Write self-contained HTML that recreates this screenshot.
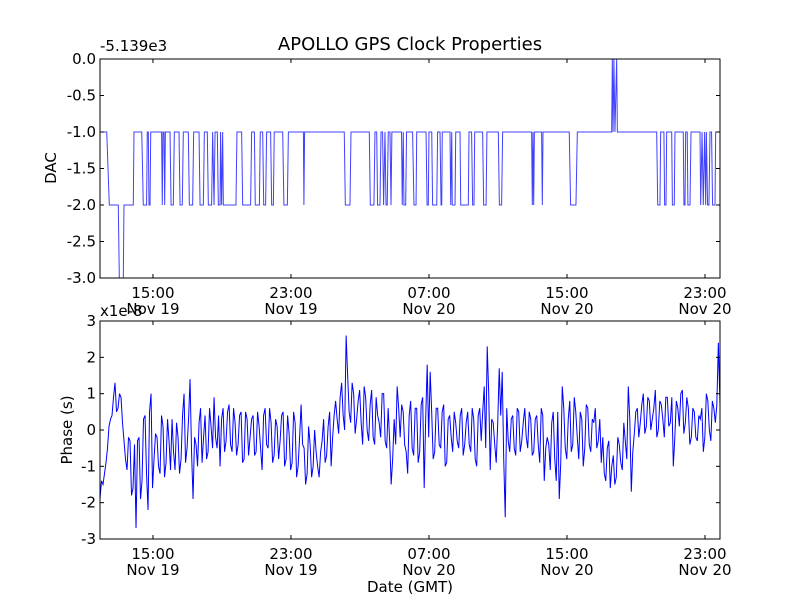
<!DOCTYPE html>
<html><head><meta charset="utf-8">
<style>
html,body{margin:0;padding:0;background:#fff;}
svg text{font-family:"DejaVu Sans","Liberation Sans",sans-serif;fill:#000;}
</style></head>
<body>
<svg id="chart" width="800" height="600" viewBox="0 0 800 600" xmlns="http://www.w3.org/2000/svg">
<rect width="800" height="600" fill="#fff"/>
<text x="410" y="50" font-size="18" text-anchor="middle">APOLLO GPS Clock Properties</text>
<text x="100" y="51" font-size="15">-5.139e3</text>
<text x="100" y="316" font-size="15">x1e-8</text>
<text x="0" y="0" font-size="15" text-anchor="middle" transform="translate(56,168) rotate(-90)">DAC</text>
<text x="0" y="0" font-size="15" text-anchor="middle" transform="translate(72,430) rotate(-90)">Phase (s)</text>
<text x="410" y="592" font-size="15" text-anchor="middle">Date (GMT)</text>
<g id="top"></g>
<g id="bottom"></g>
</svg>
<script>
// ---- data ----
const xTickHours = [15, 23, 31, 39, 47];
const xTickTimes = ["15:00", "23:00", "07:00", "15:00", "23:00"];
const xTickDates = ["Nov 19", "Nov 19", "Nov 20", "Nov 20", "Nov 20"];
const topTicks = [0.0, -0.5, -1.0, -1.5, -2.0, -2.5, -3.0];
const bottomTicks = [3, 2, 1, 0, -1, -2, -3];
// DAC (offset from -5.139e3): [hours since Nov 19 00:00, value]
const dacTimes = [11.93,12.32,12.47,12.99,13.05,13.28,13.32,13.86,13.90,14.35,14.44,14.63,14.67,14.73,14.77,14.83,14.87,15.50,15.54,15.58,15.64,15.68,15.72,15.99,16.05,16.18,16.24,16.51,16.57,16.70,16.76,17.05,17.11,17.30,17.36,17.67,17.73,17.92,17.98,18.15,18.21,18.40,18.46,18.54,18.60,18.73,18.79,18.89,18.92,18.98,19.04,19.08,19.81,19.87,20.14,20.20,20.66,20.72,20.88,20.93,21.17,21.22,21.36,21.42,21.53,21.59,21.82,21.88,21.98,22.03,22.52,22.59,22.79,22.85,23.72,23.75,23.79,26.09,26.15,26.42,26.48,27.54,27.60,27.81,27.87,27.97,28.02,28.16,28.22,28.31,28.37,28.45,28.51,28.58,28.64,28.74,28.80,28.85,29.41,29.45,29.51,29.55,29.65,29.70,
30.05,30.13,30.25,30.29,30.83,30.89,30.96,31.00,31.16,31.21,31.45,31.50,31.64,31.70,31.74,31.77,32.22,32.26,32.32,32.35,32.51,32.55,32.80,32.84,33.28,33.32,33.47,33.53,33.61,33.65,34.11,34.17,34.31,34.36,35.02,35.08,35.21,35.27,36.95,36.99,37.03,37.07,37.11,37.53,37.57,37.61,39.13,39.21,39.52,39.60,41.59,41.63,41.67,41.72,41.78,41.88,41.92,44.20,44.26,44.39,44.43,44.62,44.66,44.74,44.78,45.07,45.11,45.22,45.26,45.74,45.78,45.84,45.88,45.97,46.01,46.13,46.19,46.71,46.75,46.83,46.90,46.98,47.04,47.08,47.15,47.23,47.29,47.38,47.44,47.58,47.62,47.87];
const dacValues = [-1,-1,-2,-2,-3,-3,-2,-2,-1,-1,-2,-2,-1,-1,-2,-2,-1,-1,-2,-1,-1,-2,-1,-1,-2,-2,-1,-1,-2,-2,-1,-1,-2,-2,-1,-1,-2,-2,-1,-1,-2,-2,-1,-2,-1,-1,-2,-2,-1,-2,-1,-2,-2,-1,-1,-2,-2,-1,-1,-2,-2,-1,-1,-2,-2,-1,-1,-2,-2,-1,-1,-2,-2,-1,-1,-2,-1,-1,-2,-2,-1,-1,-2,-2,-1,-1,-2,-2,-1,-1,-2,-1,-2,-2,-1,-1,-2,-1,-1,-2,-1,-2,-2,-1,
-1,-2,-2,-1,-1,-2,-2,-1,-1,-2,-2,-1,-1,-2,-2,-1,-1,-2,-1,-2,-2,-1,-1,-2,-2,-1,-1,-2,-2,-1,-1,-2,-2,-1,-1,-2,-2,-1,-1,-2,-1,-2,-1,-1,-2,-1,-1,-2,-2,-1,-1,0,-1,0,-1,0,-1,-1,-2,-2,-1,-1,-2,-2,-1,-1,-2,-2,-1,-1,-2,-2,-1,-1,-2,-2,-1,-1,-2,-1,-2,-1,-2,-1,-2,-2,-1,-1,-2,-2,-1,-1];
// Phase (x1e-8 s), regularly sampled; phaseMidValues are samples between consecutive phaseValues
const phaseStart = 11.93;
const phaseStep = 0.174;
const phaseValues = [-1.9,-1.5,-0.9,0.1,0.4,1.3,0.6,0.9,-0.3,-1.1,-0.3,-1.6,-2.7,-0.2,-1.4,0.4,-2.2,1.0,-0.8,-0.2,-1.2,0.1,-0.9,-0.3,0.3,-1.1,-0.2,-0.8,1.0,-0.5,1.4,-1.9,-0.4,0.2,-0.9,0.4,-0.6,0.1,0.9,-0.5,-1.0,0.6,-0.3,0.7,-0.6,0.2,-0.4,0.5,-0.8,0.3,-0.2,0.4,-0.6,0.1,-1.1,0.6,-0.5,0.2,-0.7,0.1,-0.3,0.5,-0.8,-0.1,-0.9,0.2,-1.0,0.7,-0.5,-1.2,-0.4,-1.0,-0.6,-1.3,-0.3,-0.9,0.1,-1.0,0.4,0.3,0.9,0.4,2.6,0.5,1.3,-0.1,0.8,0.2,1.2,0.0,0.7,-0.2,0.9,0.2,1.0,-0.3,0.6,-1.5,0.3,1.2,-0.2,0.5,-0.6,0.4,-0.5,0.6,-0.9,0.7,-1.6,1.8,1.6,-0.8,0.6,-0.4,0.5,-1.0,0.3,-0.2,0.5,-0.3,0.4,-0.7,0.2,-0.4,0.6,-0.8,0.4,-0.3,1.2,2.3,-1.1,0.2,-0.9,1.7,1.6,-2.4,-0.3,0.3,-0.5,0.6,-0.6,0.2,-0.2,0.5,-0.7,0.3,-0.4,0.6,-1.4,-0.2,-1.1,0.5,-1.4,-1.9,1.2,-0.5,0.3,-0.6,0.9,-0.2,0.5,-1.0,0.7,-0.4,0.3,0.6,-0.3,-0.9,-1.2,-0.5,-1.6,-0.7,-1.3,-0.4,-1.1,-0.3,1.2,-1.7,-0.1,0.6,0.2,1.0,0.1,0.8,0.3,1.1,0.0,0.7,-0.2,0.9,0.2,-1.0,0.8,0.1,1.1,0.2,0.6,-0.2,0.5,-0.3,0.3,-0.6,1.0,0.0,0.8,0.2,2.4,-0.7];
const phaseMidValues = [-1.4,-1.2,-0.5,0.3,0.9,0.5,1.0,0.2,-0.8,-0.2,
-1.8,-0.4,-0.3,-1.9,0.3,-1.2,0.5,-1.6,-0.1,-1.0,
0.4,-1.3,0.3,-1.1,-0.6,0.2,-1.2,0.4,-0.9,0.3,
-0.6,-0.2,-1.0,0.6,-0.2,-0.8,0.6,-0.5,-0.2,0.4,
0.3,-0.6,0.5,-0.4,0.6,-0.7,0.4,-0.9,0.5,-0.7,
0.3,-0.7,0.5,-0.5,0.4,-0.4,0.6,-0.9,0.3,-0.8,
0.4,-1.0,0.4,-1.1,0.5,-1.3,-0.2,-0.4,-1.5,0.1,
-1.3,0.0,-1.0,-0.6,0.3,-0.7,0.5,-0.2,0.8,-0.1,
1.3,0.0,1.5,0.2,1.0,0.3,1.1,-0.4,0.9,-0.3,
1.1,-0.4,0.4,-0.2,1.0,-0.5,-0.3,-0.8,-0.4,0.6,
0.7,-0.4,-1.2,0.8,-0.7,0.6,-0.6,0.9,0.3,-0.2,
0.5,-0.6,0.6,-0.5,0.7,-0.9,0.4,-0.6,0.2,-0.5,
0.6,-0.4,0.5,-0.6,0.3,-1.0,0.6,0.5,-0.5,1.0,
0.3,-0.4,0.2,0.4,-0.8,0.6,-0.6,0.4,-0.7,0.5,
-0.3,0.6,-0.5,0.3,-0.6,0.4,-0.9,0.4,-0.5,-0.4,
0.2,-0.8,0.5,-0.9,0.6,-0.8,0.8,-0.4,0.5,-0.8,
0.3,-0.5,0.6,-0.6,0.2,-0.5,0.3,-0.2,-1.4,-0.3,
-1.0,-1.5,-0.2,-0.9,0.2,-0.8,0.3,-0.6,0.5,-0.2,
0.7,-0.1,0.9,0.0,0.6,-0.2,0.8,0.3,0.9,0.1,
0.9,-0.2,0.6,1.0,-0.1,0.9,-0.4,0.6,-0.2,0.4,
0.6,-0.2,0.8,-0.3,0.6,0.7];

// ---- axes ----
const NS = "http://www.w3.org/2000/svg";
const X0 = 100, X1 = 720, H0 = 11.93, H1 = 47.87;
const xScale = h => X0 + (h - H0) / (H1 - H0) * (X1 - X0);
const topPanel = {y0: 59, y1: 278, v0: 0, v1: -3};
const botPanel = {y0: 321, y1: 539, v0: 3, v1: -3};
const yScale = (p, v) => p.y0 + (p.v0 - v) / (p.v0 - p.v1) * (p.y1 - p.y0);

function mk(tag, attrs, parent) {
  const e = document.createElementNS(NS, tag);
  for (const k in attrs) e.setAttribute(k, attrs[k]);
  parent.appendChild(e);
  return e;
}

function drawPanel(g, p, ticks, fmt, prefix, times, values, color, opacity) {
  const clipId = prefix + "-clip";
  const defs = mk("defs", {}, g);
  const cp = mk("clipPath", {id: clipId}, defs);
  mk("rect", {x: X0, y: p.y0, width: X1 - X0, height: p.y1 - p.y0}, cp);
  let d = "";
  for (let i = 0; i < values.length; i++) {
    d += (i ? "L" : "M") + xScale(times[i]).toFixed(2) + "," + yScale(p, values[i]).toFixed(2);
  }
  const line = mk("path", {d: d, fill: "none", stroke: color, "stroke-width": 1, "stroke-opacity": opacity, "clip-path": "url(#" + clipId + ")"}, g);
  
  
  const frame = mk("rect", {x: X0, y: p.y0, width: X1 - X0, height: p.y1 - p.y0, fill: "none", stroke: "#000", "stroke-width": 1}, g);
  
  
  ticks.forEach(v => {
    const y = yScale(p, v);
    mk("line", {x1: X0, x2: X0 + 4, y1: y, y2: y, stroke: "#000"}, g);
    mk("line", {x1: X1, x2: X1 - 4, y1: y, y2: y, stroke: "#000"}, g);
    const t = mk("text", {x: X0 - 4, y: y + 5, "font-size": 15, "text-anchor": "end"}, g);
    t.textContent = fmt(v);
    
    
  });
  xTickHours.forEach((h, i) => {
    const x = xScale(h);
    mk("line", {x1: x, x2: x, y1: p.y1, y2: p.y1 - 4, stroke: "#000"}, g);
    mk("line", {x1: x, x2: x, y1: p.y0, y2: p.y0 + 4, stroke: "#000"}, g);
    const t1 = mk("text", {x: x, y: p.y1 + 20, "font-size": 15, "text-anchor": "middle"}, g);
    t1.textContent = xTickTimes[i];
    
    
    const t2 = mk("text", {x: x, y: p.y1 + 36, "font-size": 15, "text-anchor": "middle"}, g);
    t2.textContent = xTickDates[i];
    
    
  });
}

const phaseTimes = [], phaseAll = [];
phaseValues.forEach((v, i) => {
  phaseTimes.push(phaseStart + i * phaseStep);
  phaseAll.push(v);
  if (i < phaseMidValues.length && i < phaseValues.length - 1) {
    phaseTimes.push(phaseStart + (i + 0.5) * phaseStep);
    phaseAll.push(phaseMidValues[i]);
  }
});
drawPanel(document.getElementById("top"), topPanel, topTicks, v => v.toFixed(1), "dac", dacTimes, dacValues, "#0000ff", 0.75);
drawPanel(document.getElementById("bottom"), botPanel, bottomTicks, v => String(v), "phase", phaseTimes, phaseAll, "#0000ff", 1);
</script>
</body></html>
